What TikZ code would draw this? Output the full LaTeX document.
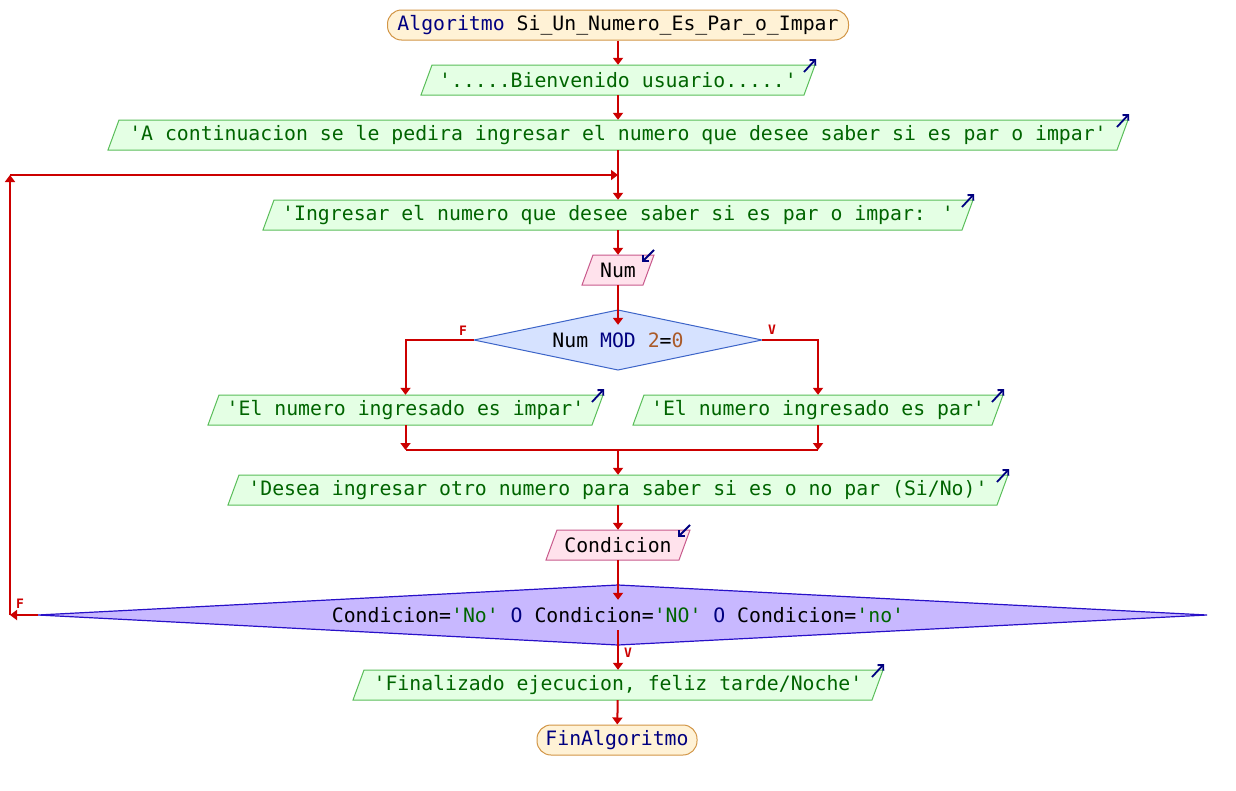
\documentclass[tikz,border=0pt]{standalone}
\usepackage{fontspec}
\setmainfont{DejaVu Sans Mono}
\usetikzlibrary{arrows.meta}
\definecolor{flowred}{RGB}{204,0,0}
\definecolor{navy}{RGB}{0,0,128}
\definecolor{termfill}{RGB}{255,242,214}
\definecolor{termborder}{RGB}{210,150,70}
\definecolor{outfill}{RGB}{228,255,228}
\definecolor{outborder}{RGB}{90,190,90}
\definecolor{outtext}{RGB}{0,100,0}
\definecolor{infill}{RGB}{255,226,236}
\definecolor{inborder}{RGB}{200,90,140}
\definecolor{dafill}{RGB}{214,226,255}
\definecolor{daborder}{RGB}{60,100,200}
\definecolor{dbfill}{RGB}{200,184,255}
\definecolor{dbborder}{RGB}{40,16,200}
\definecolor{numcol}{RGB}{170,90,40}
\newcommand\sq{\textquotesingle}
\newcommand\pgOut[5]{%
  \draw[outshape] (#2,#4+30) -- (#2+11,#4) -- (#3,#4) -- (#3-11,#4+30) -- cycle;
  \node[txt,text=outtext] (#1) at ({(#2+#3)/2},#4+15) {#5};
  \draw[ioarrow] (#3-11,#4+7) -- (#3+1,#4-6);}
\newcommand\pgIn[5]{%
  \draw[inshape] (#2,#4+30) -- (#2+11,#4) -- (#3,#4) -- (#3-11,#4+30) -- cycle;
  \node[txt,text=black] (#1) at ({(#2+#3)/2},#4+15) {#5};
  \draw[ioarrow] (#3,#4-5) -- (#3-12,#4+7);}
\begin{document}
\begin{tikzpicture}[x=1pt,y=-1pt,
  flow/.style={draw=flowred,line width=2pt,-{Triangle[length=7pt,width=10pt]}},
  plain/.style={draw=flowred,line width=2pt},
  term/.style={draw=termborder,fill=termfill,rounded corners=14pt,line width=1pt,minimum height=30pt,inner sep=0pt,font=\fontsize{19.8}{22}\selectfont},
  outshape/.style={draw=outborder,fill=outfill,line width=1pt},
  inshape/.style={draw=inborder,fill=infill,line width=1pt},
  dia1/.style={draw=daborder,fill=dafill,line width=1pt},
  dia2/.style={draw=dbborder,fill=dbfill,line width=1.2pt},
  txt/.style={inner sep=0pt,minimum height=30pt,font=\fontsize{19.8}{22}\selectfont},
  ioarrow/.style={draw=navy,line width=1.8pt,-{Straight Barb[length=4pt,width=8pt]}},
  lbl/.style={text=flowred,inner sep=0pt,font=\fontsize{13}{14}\selectfont\bfseries}
]
\path[use as bounding box,fill=white] (0,0) rectangle (1236,790);

\node[term,minimum width=461pt] (start) at (618,25) {\textcolor{navy}{Algoritmo} Si\_Un\_Numero\_Es\_Par\_o\_Impar};
\pgOut{bien}{421}{815}{65}{\sq.....Bienvenido usuario.....\sq}
\pgOut{cont}{108}{1128}{120}{\sq A continuacion se le pedira ingresar el numero que desee saber si es par o impar\sq}
\pgOut{ingr}{263}{973}{200}{\sq Ingresar el numero que desee saber si es par o impar: \sq}
\pgIn{num}{582}{654}{255}{Num}

\draw[dia1] (474,340) -- (618,310) -- (762,340) -- (618,370) -- cycle;
\node[txt,minimum width=288pt] (d1) at (618,340) {Num \textcolor{navy}{MOD} \textcolor{numcol}{2}=\textcolor{numcol}{0}};

\pgOut{impar}{208}{603}{395}{\sq El numero ingresado es impar\sq}
\pgOut{par}{633}{1003}{395}{\sq El numero ingresado es par\sq}
\pgOut{desea}{228}{1008}{475}{\sq Desea ingresar otro numero para saber si es o no par (Si/No)\sq}
\pgIn{cond}{546}{690}{530}{Condicion}

\draw[dia2] (38,615) -- (618,585) -- (1207,615) -- (618,645) -- cycle;
\node[txt,minimum width=1160pt] (d2) at (618,615) {Condicion=\textcolor{outtext}{\sq No\sq} \textcolor{navy}{O} Condicion=\textcolor{outtext}{\sq NO\sq} \textcolor{navy}{O} Condicion=\textcolor{outtext}{\sq no\sq}};

\pgOut{fin}{353}{883}{670}{\sq Finalizado ejecucion, feliz tarde/Noche\sq}
\node[term,minimum width=160pt] (end) at (617,740) {\textcolor{navy}{FinAlgoritmo}};

% connectors
\draw[flow] (start) -- (bien);
\draw[flow] (bien) -- (cont);
\draw[flow] (cont) -- (ingr);
\draw[flow] (ingr) -- (num);
\draw[flow] (num) -- (d1.north);
\draw[flow] (d1.west) -| (impar.north);
\draw[flow] (d1.east) -| (par.north);
\node[lbl] (lf1) at (463,331) {F};
\node[lbl] (lv1) at (772,330) {V};
\coordinate (mL) at (impar.south |- 0,450);
\coordinate (mR) at (par.south |- 0,450);
\coordinate (mC) at (desea.north |- 0,450);
\draw[flow] (impar.south) -- (mL);
\draw[flow] (par.south) -- (mR);
\draw[plain] (mL) -- (mR);
\draw[flow] (mC) -- (desea.north);
\draw[flow] (desea) -- (cond);
\draw[flow] (cond.south) -- (cond.south |- d2.north);
\draw[flow] (d2.south) -- (fin.north);
\node[lbl] (lv2) at (628,653) {V};
\draw[flow] (fin) -- (end);
% loop back
\coordinate (lb) at (10,615);
\coordinate (lt) at (10,175);
\coordinate (lj) at (618,175);
\draw[flow] (d2.west) -- (lb);
\draw[flow] (lb) -- (lt);
\draw[flow] (lt) -- (lj);
\node[lbl] (lf2) at (20,604) {F};
\end{tikzpicture}
\end{document}
